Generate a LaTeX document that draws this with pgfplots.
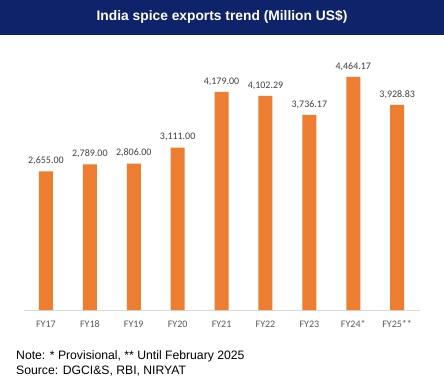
\documentclass[border=0pt]{standalone}
\usepackage{pgfplots}
\pgfplotsset{compat=1.18}
\usepackage{fontspec}
\setmainfont{Carlito}
\newfontfamily\arial{Liberation Sans}
\definecolor{navy}{RGB}{14,35,105}
\definecolor{barorange}{RGB}{237,125,49}
\definecolor{lblgray}{RGB}{64,64,64}
\definecolor{tickgray}{RGB}{89,89,89}
\definecolor{axgray}{RGB}{217,217,217}
\begin{document}
\begin{tikzpicture}
\path[fill=white] (0,0) rectangle (444bp,388bp);
\fill[navy] (0,353bp) rectangle (444bp,388bp);
\node[text=white, font=\arial\bfseries\fontsize{13.8bp}{16bp}\selectfont] at (222bp,371bp) {India spice exports trend (Million US\$)};
\begin{axis}[
  at={(24bp,78bp)}, anchor=south west,
  scale only axis, width=396bp, height=261bp,
  xmin=-0.5, xmax=8.52, ymin=0, ymax=5000,
  axis y line=none,
  axis x line*=bottom,
  x axis line style={draw=axgray, line width=0.8pt, -},
  xtick={0,...,8},
  xticklabels={FY17,FY18,FY19,FY20,FY21,FY22,FY23,FY24*,FY25**},
  xtick style={draw=none},
  xticklabel style={text=tickgray, font=\fontsize{10bp}{12bp}\selectfont, yshift=-3bp},
  ybar, bar width=14bp,
  point meta=explicit symbolic,
  nodes near coords,
  every node near coord/.append style={text=lblgray, font=\fontsize{10bp}{12bp}\selectfont, yshift=3bp},
  clip=false,
]
\addplot[fill=barorange, draw=none] coordinates {
 (0,2655.00) [2,655.00]
 (1,2789.00) [2,789.00]
 (2,2806.00) [2,806.00]
 (3,3111.00) [3,111.00]
 (4,4179.00) [4,179.00]
 (5,4102.29) [4,102.29]
 (6,3736.17) [3,736.17]
 (7,4464.17) [4,464.17]
 (8,3928.83) [3,928.83]
};
\end{axis}
\node[anchor=west, inner sep=0pt, font=\arial\fontsize{12.2bp}{14bp}\selectfont] at (16bp,32bp) {Note: * Provisional, ** Until February 2025};
\node[anchor=west, inner sep=0pt, font=\arial\fontsize{12.2bp}{14bp}\selectfont] at (16bp,17bp) {Source: DGCI\&S, RBI, NIRYAT};
\end{tikzpicture}
\end{document}
